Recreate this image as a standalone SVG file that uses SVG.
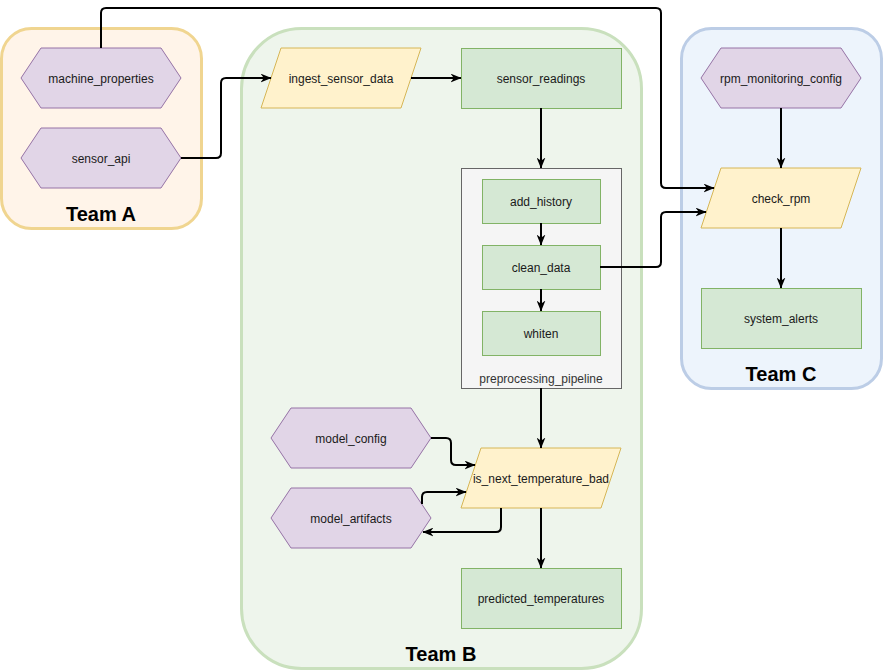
<svg xmlns="http://www.w3.org/2000/svg" width="883" height="670" viewBox="0 0 883 670">
<style>
.team{stroke-width:3}
.lbl{font-family:"Liberation Sans",Arial,sans-serif;font-size:12px;fill:#1a1a1a;text-anchor:middle;dominant-baseline:central}
.tlbl{font-family:"Liberation Sans",Arial,sans-serif;font-size:20px;font-weight:bold;fill:#000;text-anchor:middle}
.hex{fill:#e1d5e7;stroke:#9673a6;stroke-width:1}
.para{fill:#fff2cc;stroke:#d6b656;stroke-width:1}
.box{fill:#d5e8d4;stroke:#82b366;stroke-width:1}
.edge{fill:none;stroke:#000;stroke-width:2;marker-end:url(#arr)}
</style>
<defs>
<marker id="arr" viewBox="0 0 10 8" refX="9.5" refY="4" markerWidth="11" markerHeight="9" markerUnits="userSpaceOnUse" orient="auto">
<path d="M0,0 L10,4 L0,8 L3,4 Z" fill="#000"/>
</marker>
</defs>
<rect width="883" height="670" fill="#fff"/>
<g id="teamA">
<rect class="team" x="1.5" y="28.5" width="200" height="200" rx="30" fill="#fff4e9" stroke="#f0d590"/>
<text class="tlbl" x="101" y="221">Team A</text>
</g>
<g id="teamB">
<rect class="team" x="241.5" y="28.5" width="400" height="640" rx="60" fill="#eef5ec" stroke="#c9e0bd"/>
<text class="tlbl" x="441" y="661">Team B</text>
</g>
<g id="teamC">
<rect class="team" x="681.5" y="28.5" width="200" height="360" rx="30" fill="#edf4fc" stroke="#bccde6"/>
<text class="tlbl" x="781" y="381">Team C</text>
</g>
<g id="machine_properties">
<polygon class="hex" points="41,48 161,48 181,78 161,108 41,108 21,78"/>
<text class="lbl" x="101" y="79">machine_properties</text>
</g>
<g id="sensor_api">
<polygon class="hex" points="41,128 161,128 181,158 161,188 41,188 21,158"/>
<text class="lbl" x="101" y="159">sensor_api</text>
</g>
<g id="ingest_sensor_data">
<polygon class="para" points="281,48 421,48 401,108 261,108"/>
<text class="lbl" x="341" y="79">ingest_sensor_data</text>
</g>
<g id="sensor_readings">
<rect class="box" x="461.5" y="48.5" width="160" height="60"/>
<text class="lbl" x="541" y="79">sensor_readings</text>
</g>
<g id="preprocessing_pipeline">
<rect x="461.5" y="168.5" width="160" height="220" fill="#f5f5f5" stroke="#666666" stroke-width="1"/>
<text x="541" y="379" font-family="'Liberation Sans',Arial,sans-serif" font-size="12" fill="#333333" text-anchor="middle" dominant-baseline="central">preprocessing_pipeline</text>
</g>
<g id="add_history">
<rect class="box" x="482.5" y="179.5" width="118" height="44"/>
<text class="lbl" x="541" y="202">add_history</text>
</g>
<g id="clean_data">
<rect class="box" x="482.5" y="245.5" width="118" height="44"/>
<text class="lbl" x="541" y="268">clean_data</text>
</g>
<g id="whiten">
<rect class="box" x="482.5" y="311.5" width="118" height="44"/>
<text class="lbl" x="541" y="334">whiten</text>
</g>
<g id="rpm_monitoring_config">
<polygon class="hex" points="721,48 841,48 861,78 841,108 721,108 701,78"/>
<text class="lbl" x="781" y="79">rpm_monitoring_config</text>
</g>
<g id="check_rpm">
<polygon class="para" points="721,168 861,168 841,228 701,228"/>
<text class="lbl" x="781" y="199">check_rpm</text>
</g>
<g id="system_alerts">
<rect class="box" x="701.5" y="288.5" width="160" height="60"/>
<text class="lbl" x="781" y="319">system_alerts</text>
</g>
<g id="model_config">
<polygon class="hex" points="291,408 411,408 431,438 411,468 291,468 271,438"/>
<text class="lbl" x="351" y="439">model_config</text>
</g>
<g id="model_artifacts">
<polygon class="hex" points="291,488 411,488 431,518 411,548 291,548 271,518"/>
<text class="lbl" x="351" y="519">model_artifacts</text>
</g>
<g id="is_next_temperature_bad">
<polygon class="para" points="481,448 621,448 601,508 461,508"/>
<text class="lbl" x="541" y="479">is_next_temperature_bad</text>
</g>
<g id="predicted_temperatures">
<rect class="box" x="461.5" y="568.5" width="160" height="60"/>
<text class="lbl" x="541" y="599">predicted_temperatures</text>
</g>
<g id="connectors">
<path class="edge" d="M101,48 V13 Q101,8 106,8 H656 Q661,8 661,13 V183 Q661,188 666,188 H714"/>
<path class="edge" d="M181,158 H216 Q221,158 221,153 V83 Q221,78 226,78 H271"/>
<path class="edge" d="M411,78 H461"/>
<path class="edge" d="M541,108 V168"/>
<path class="edge" d="M541,223 V245"/>
<path class="edge" d="M541,289 V311"/>
<path class="edge" d="M600,267 H656 Q661,267 661,262 V217 Q661,212 666,212 H706"/>
<path class="edge" d="M781,108 V168"/>
<path class="edge" d="M781,228 V288"/>
<path class="edge" d="M541,388 V448"/>
<path class="edge" d="M431,438 H446 Q451,438 451,443 V460 Q451,465 456,465 H475"/>
<path class="edge" d="M422,504 V497 Q422,492 427,492 H466"/>
<path class="edge" d="M501,508 V527 Q501,532 496,532 H423"/>
<path class="edge" d="M541,508 V568"/>
</g>
</svg>
